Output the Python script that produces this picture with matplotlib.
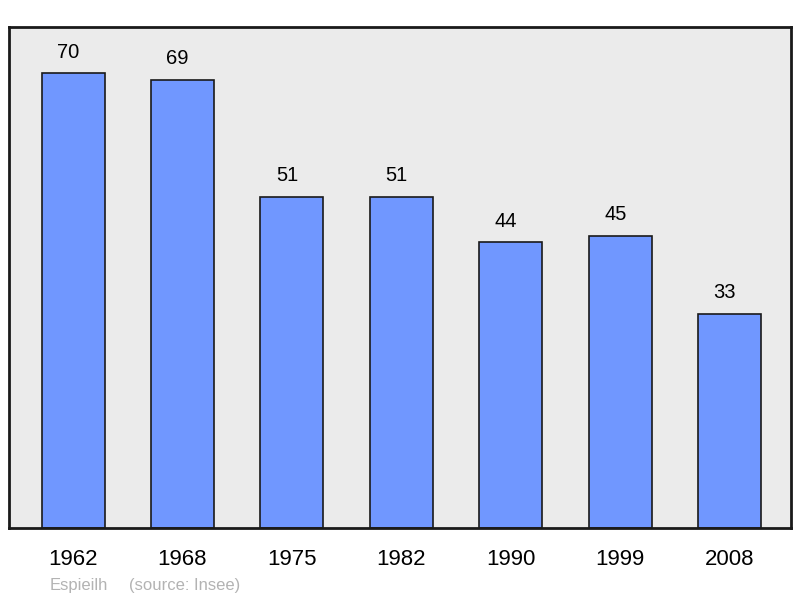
import matplotlib.pyplot as plt

years = ['1962', '1968', '1975', '1982', '1990', '1999', '2008']
population = [70, 69, 51, 51, 44, 45, 33]

plt.rcParams['font.family'] = ['Liberation Sans', 'DejaVu Sans']

fig = plt.figure(figsize=(8, 5.98), dpi=100)
ax = fig.add_axes([9 / 800, 1 - 528 / 598, 782 / 800, 501 / 598])
ax.set_facecolor('#ebebeb')

x = range(len(years))
ax.bar(x, population, width=0.576, color='#7097ff', edgecolor='#1a1a1a', linewidth=1.2, zorder=2)
# value labels sit a bit left of the bar centre, like the original
for i, v in zip(x, population):
    ax.annotate(str(v), (i, v), xytext=(-3.5, 11), textcoords='offset points',
                ha='center', va='baseline', fontsize=14.5)

ax.set_xlim(-0.585, 6.56)
ax.set_ylim(0, 77.1)
ax.set_xticks(list(x))
ax.set_xticklabels(years, fontsize=16)
ax.tick_params(axis='x', length=0, pad=15)
ax.set_yticks([])
for s in ax.spines.values():
    s.set_linewidth(2)
    s.set_color('#1a1a1a')

fig.text(50 / 800, 1 - 590 / 598, 'Espieilh', color='#b3b3b3', fontsize=12, va='baseline')
fig.text(129 / 800, 1 - 590 / 598, '(source: Insee)', color='#b3b3b3', fontsize=12, va='baseline')

fig.savefig('out.png', dpi=100)
